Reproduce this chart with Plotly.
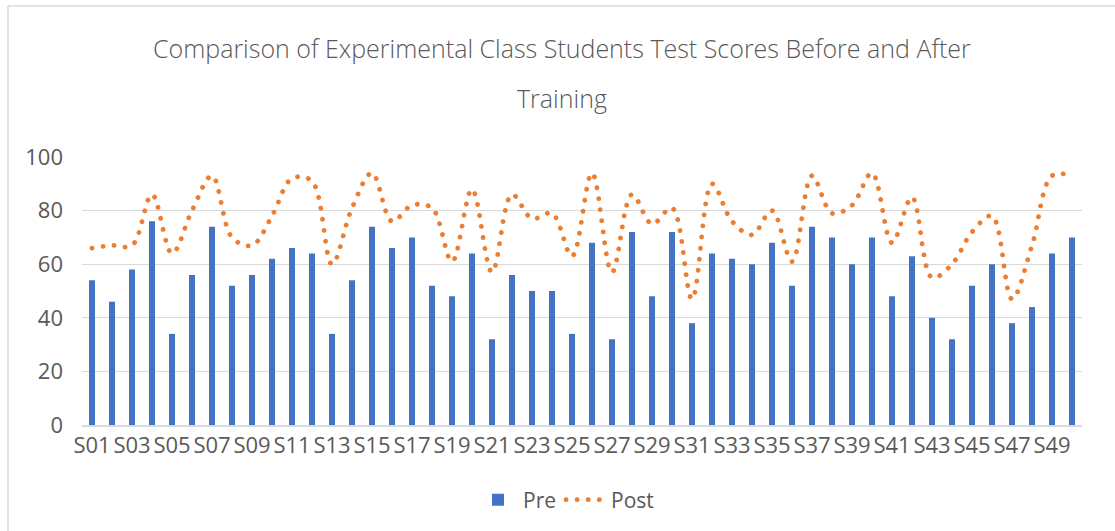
import plotly.graph_objects as go

students = [f"S{i:02d}" for i in range(1, 51)]
pre = [54, 46, 58, 76, 34, 56, 74, 52, 56, 62,
       66, 64, 34, 54, 74, 66, 70, 52, 48, 64,
       32, 56, 50, 50, 34, 68, 32, 72, 48, 72,
       38, 64, 62, 60, 68, 52, 74, 70, 60, 70,
       48, 63, 40, 32, 52, 60, 38, 44, 64, 70]
post = [66, 67, 67, 86, 64, 80, 93, 70, 67, 78,
        92, 91, 60, 81, 94, 76, 82, 81, 61, 88,
        57, 86, 77, 79, 63, 94, 57, 86, 75, 81,
        47, 90, 76, 71, 80, 61, 93, 79, 82, 94,
        68, 85, 55, 60, 72, 78, 47, 67, 93, 93]
tick_labels = students[::2]
y_ticks = [0, 20, 40, 60, 80, 100]
title_line1 = "Comparison of Experimental Class Students Test Scores Before and After"
title_line2 = "Training"

TXT = "#595959"
FONT = "Open Sans, DejaVu Sans, sans-serif"

fig = go.Figure()
fig.add_trace(go.Bar(x=students, y=pre, name="Pre", width=0.3,
                     marker=dict(color="#4472C4", line=dict(width=0))))
fig.add_trace(go.Scatter(x=students, y=post, name="Post", mode="lines",
                         line=dict(color="#ED7D31", width=4.8, dash="0.1px,11px",
                                   shape="spline", smoothing=1)))

L, R, T, B = 82, 33, 157, 106
W, H = 1115, 531
pw, ph = W - L - R, H - T - B

def px(x):
    return (x - L) / pw

def py(y):
    return (H - B - y) / ph

fig.update_layout(
    width=W, height=H,
    margin=dict(l=L, r=R, t=T, b=B, autoexpand=False),
    paper_bgcolor="white", plot_bgcolor="white",
    font=dict(family=FONT, color=TXT),
    showlegend=True,
    legend=dict(orientation="h", x=px(566), y=py(500), xanchor="center", yanchor="middle",
                font=dict(size=21, color=TXT), itemwidth=40),
    xaxis=dict(tickmode="array", tickvals=tick_labels, ticktext=tick_labels,
               tickfont=dict(size=22, color=TXT), showgrid=False, ticks="",
               showline=True, linecolor="#d9d9d9", linewidth=1.5, tickangle=0,
               range=[-0.5, 49.5], automargin=False),
    yaxis=dict(range=[0, 100], tickvals=y_ticks, tickfont=dict(size=22, color=TXT),
               showgrid=True, gridcolor="#d9d9d9", gridwidth=1.3, zeroline=False,
               showline=False, ticks="", ticklabelstandoff=18, automargin=False),
    annotations=[
        dict(text=title_line1, x=px(562), y=py(48), xref="paper", yref="paper",
             showarrow=False, font=dict(size=25, color=TXT, weight=300),
             xanchor="center", yanchor="middle"),
        dict(text=title_line2, x=px(562), y=py(98), xref="paper", yref="paper",
             showarrow=False, font=dict(size=25, color=TXT, weight=300),
             xanchor="center", yanchor="middle"),
    ],
    shapes=[
        dict(type="line", xref="paper", yref="paper", x0=px(8), x1=px(1120), y0=py(6), y1=py(6),
             line=dict(color="#d9d9d9", width=1.5)),
        dict(type="line", xref="paper", yref="paper", x0=px(8), x1=px(8), y0=py(6), y1=py(540),
             line=dict(color="#d9d9d9", width=1.5)),
    ],
)

post_js = """
document.body.style.margin = '0';
document.body.style.padding = '0';
function roundCaps(){
  document.querySelectorAll('.scatterlayer .js-line, .legend .js-line').forEach(function(p){
    p.style.strokeLinecap = 'round';
  });
}
roundCaps();
var gd = document.getElementsByClassName('plotly-graph-div')[0];
if (gd && gd.on) { gd.on('plotly_afterplot', roundCaps); }
"""

fig.write_html("out.html", post_script=post_js, config={"displayModeBar": False})
